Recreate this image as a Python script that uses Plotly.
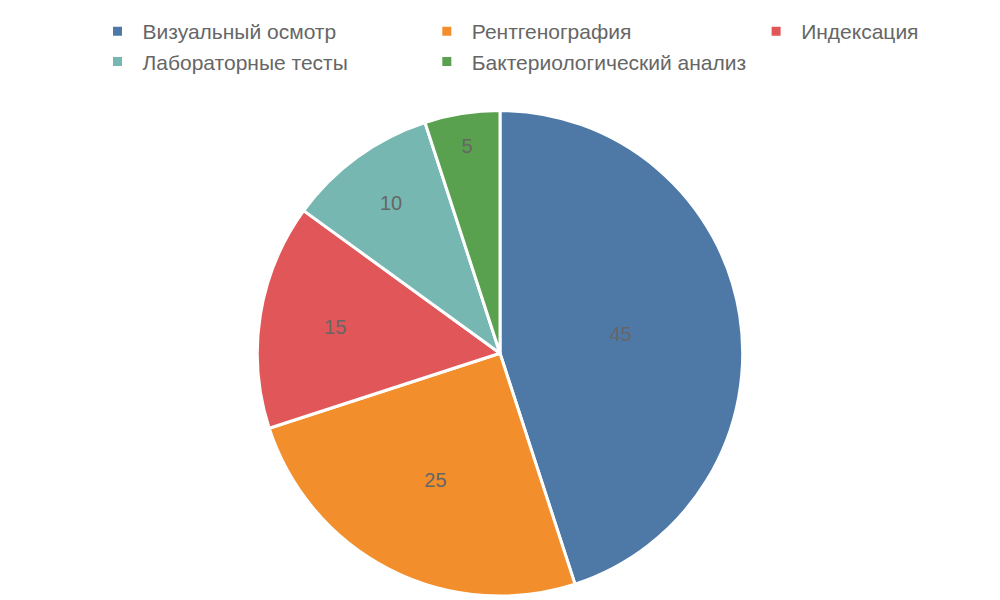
import plotly.graph_objects as go

categories = ["Визуальный осмотр", "Рентгенография", "Индексация", "Лабораторные тесты", "Бактериологический анализ"]
values = [45, 25, 15, 10, 5]
colors = ["#4e79a7", "#f28e2b", "#e15759", "#76b7b2", "#59a14f"]

fig = go.Figure(go.Pie(
    labels=categories, values=values, sort=False, direction="clockwise", rotation=0,
    marker=dict(colors=colors, line=dict(color="white", width=3)),
    textinfo="value", textposition="inside", insidetextorientation="horizontal",
    textfont=dict(color="#666666", size=20),
    domain=dict(x=[0, 0.984], y=[0.02, 0.829]),
    hoverinfo="label+value+percent",
))
fig.update_layout(
    width=1000, height=600, margin=dict(l=0, r=0, t=0, b=0),
    paper_bgcolor="white",
    font=dict(family="Liberation Sans, Arial, sans-serif", color="#666666", size=20),
    legend=dict(orientation="h", x=0.5, xanchor="center", y=0.995, yanchor="top",
                font=dict(size=21, color="#666666"), itemwidth=40),
)
fig.write_html("out.html")
